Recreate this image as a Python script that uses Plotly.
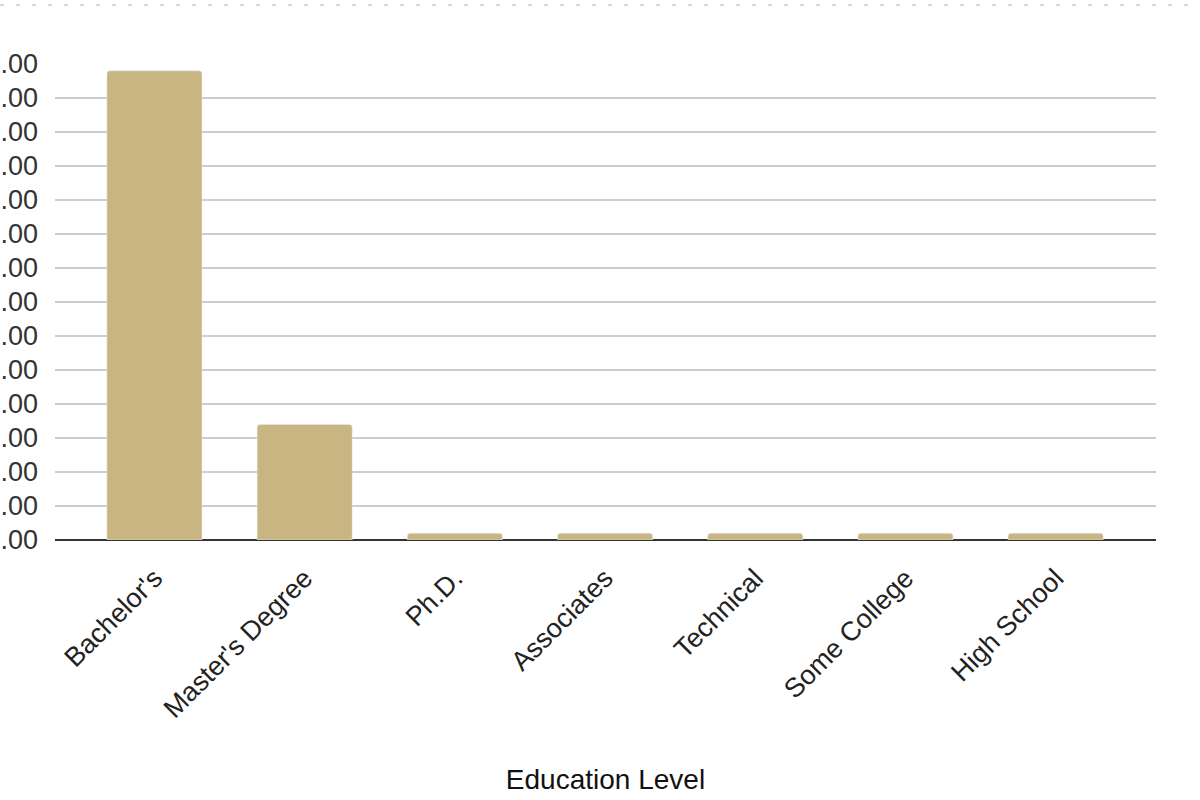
import plotly.graph_objects as go

levels = ["Bachelor's", "Master's Degree", "Ph.D.", "Associates", "Technical",
          "Some College", "High School"]
values = [13.8, 3.4, 0.2, 0.2, 0.2, 0.2, 0.2]
y_ticks = list(range(0, 15))

fig = go.Figure(go.Bar(
        x=levels,
        y=values,
        marker=dict(color='#c9b581', cornerradius=3),
        hoverinfo='skip',
        ))

fig.update_layout(
    width=1200, height=800,
    font_family='Liberation Sans, Arial',
    font_color='#222',
    paper_bgcolor='white',
    plot_bgcolor='white',
    margin=dict(l=55, r=44, t=64, b=260),
    bargap=0.367,
    showlegend=False,
)

fig.update_xaxes(
    range=[-0.662, 6.668],
    tickangle=-45,
    tickfont=dict(size=27, color='#222'),
    ticklabelstandoff=16,
    automargin=False,
    title=dict(text='Education Level', font=dict(size=28, color='#111'), standoff=46),
    showgrid=False,
)

fig.update_yaxes(
    range=[0, 14],
    tickvals=y_ticks,
    ticktext=['%.2f' % v for v in y_ticks],
    tickfont=dict(size=27, color='#333'),
    ticklabelstandoff=16,
    automargin=False,
    gridcolor='#cccccc',
    gridwidth=1.5,
    zeroline=True,
    zerolinecolor='#333',
    zerolinewidth=1.5,
)

# dotted border line across top of page
fig.add_shape(type='line', xref='paper', yref='paper',
              x0=-0.05, x1=1.04, y0=1.124, y1=1.124,
              line=dict(color='#cccccc', width=1.5, dash='4px,12px'))

fig.write_html("out.html", config={'displayModeBar': False},
               post_script="document.body.style.margin='0px';")
